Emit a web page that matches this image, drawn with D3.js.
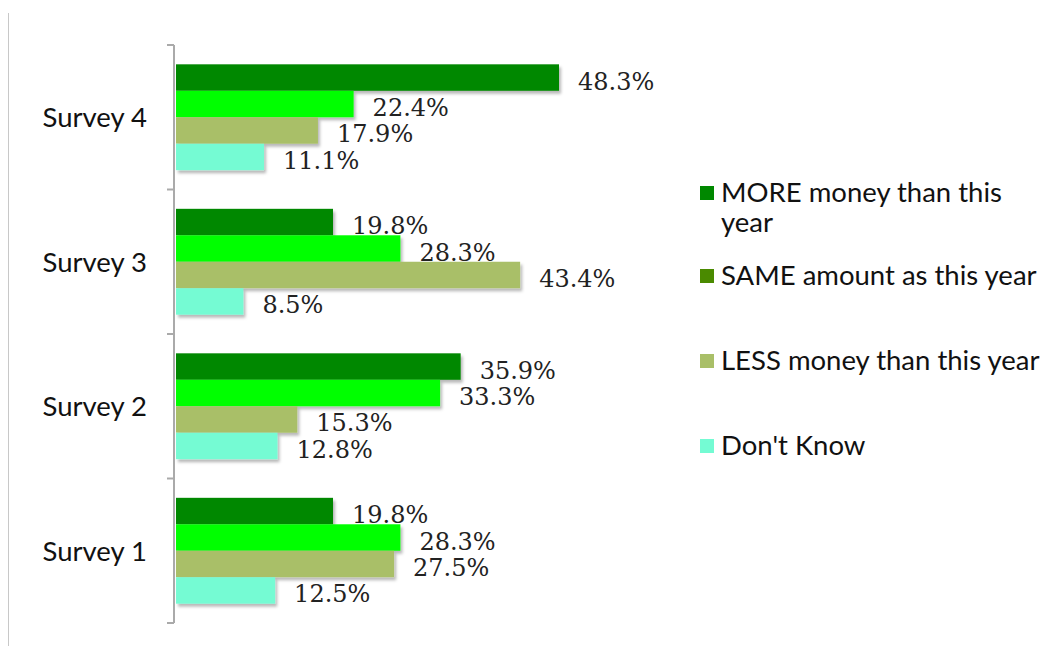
<!DOCTYPE html>
<html>
<head>
<meta charset="utf-8">
<script src="https://cdn.jsdelivr.net/npm/d3@7"></script>
<style>
  html, body { margin: 0; padding: 0; background: #fff; }
  svg { display: block; }
</style>
</head>
<body>
<svg id="chart" width="1042" height="646"></svg>
<script>
// Survey responses: expected spending next year
const categories = ["Survey 4", "Survey 3", "Survey 2", "Survey 1"];
const seriesNames = [
  "MORE money than this year",
  "SAME amount as this year",
  "LESS money than this year",
  "Don't Know"
];
const moreValues = [48.3, 19.8, 35.9, 19.8];
const sameValues = [22.4, 28.3, 33.3, 28.3];
const lessValues = [17.9, 43.4, 15.3, 27.5];
const dontKnowValues = [11.1, 8.5, 12.8, 12.5];

const barColors = ["#008800", "#00ff00", "#a9bf68", "#74fbd3"];
const legendColors = ["#008800", "#4a8a00", "#a9bf68", "#74fbd3"];

const seriesValues = [moreValues, sameValues, lessValues, dontKnowValues];

const svg = d3.select("#chart");
const margin = { left: 175, top: 45, bottom: 623 };

// drop shadow for bars
const defs = svg.append("defs");
const f = defs.append("filter").attr("id", "shadow")
  .attr("x", "-5%").attr("y", "-20%").attr("width", "115%").attr("height", "160%");
f.append("feDropShadow").attr("dx", 2).attr("dy", 3).attr("stdDeviation", 1.8)
  .attr("flood-color", "#000").attr("flood-opacity", 0.28);

// thin frame line on the left
svg.append("line").attr("x1", 8.5).attr("x2", 8.5).attr("y1", 13).attr("y2", 646)
  .attr("stroke", "#c8c8c8").attr("stroke-width", 1);

const x = d3.scaleLinear().domain([0, 48.3]).range([176, 559]);
const y = d3.scaleBand().domain(categories).range([margin.top, margin.bottom]).paddingInner(0).paddingOuter(0);
const inner = d3.scaleBand().domain(d3.range(4)).range([0, y.bandwidth()]).paddingOuter(0.73).paddingInner(0);

const rows = categories.map((c, i) => seriesValues.map((vals, s) => ({ cat: c, s, v: vals[i] })));

const groups = svg.append("g").selectAll("g").data(rows).join("g")
  .attr("transform", (d, i) => `translate(0,${y(categories[i])})`);

groups.selectAll("rect").data(d => d).join("rect")
  .attr("x", x(0))
  .attr("y", d => inner(d.s))
  .attr("width", d => x(d.v) - x(0))
  .attr("height", inner.bandwidth())
  .attr("fill", d => barColors[d.s])
  .attr("filter", "url(#shadow)");

groups.selectAll("text").data(d => d).join("text")
  .attr("x", d => x(d.v) + 19)
  .attr("y", d => inner(d.s) + inner.bandwidth() / 2 + 12)
  .attr("font-family", "'DejaVu Serif', serif")
  .attr("font-size", 24)
  .attr("fill", "#222")
  .text(d => d.v.toFixed(1) + "%");

// category axis
const axis = svg.append("g").attr("transform", "translate(174,0)")
  .call(d3.axisLeft(y).tickSize(0).tickFormat(""));
axis.select(".domain").attr("stroke", "#aaa").attr("stroke-width", 2)
  .attr("d", `M0,${margin.top}V${margin.bottom}`);
const boundaries = [margin.top].concat(categories.map(c => y(c) + y.bandwidth()));
axis.selectAll(".bnd").data(boundaries).join("line").attr("class", "bnd")
  .attr("x1", -7).attr("x2", 0).attr("y1", d => d).attr("y2", d => d)
  .attr("stroke", "#aaa").attr("stroke-width", 2);

svg.append("g").selectAll("text").data(categories).join("text")
  .attr("x", 147)
  .attr("y", d => y(d) + y.bandwidth() / 2 + 10)
  .attr("text-anchor", "end")
  .attr("font-family", "Lato, sans-serif")
  .attr("font-size", 27.5)
  .attr("fill", "#111")
  .text(d => d);

// legend
const legendItems = [
  { lines: ["MORE money than this", "year"], base: 202 },
  { lines: ["SAME amount as this year"], base: 285 },
  { lines: ["LESS money than this year"], base: 370 },
  { lines: ["Don't Know"], base: 455 }
];
const lg = svg.append("g").selectAll("g").data(legendItems).join("g");
lg.append("rect")
  .attr("x", 700).attr("y", d => d.base - 16).attr("width", 14).attr("height", 14)
  .attr("fill", (d, i) => legendColors[i]);
lg.append("text")
  .attr("x", 721).attr("y", d => d.base)
  .attr("font-family", "Lato, sans-serif")
  .attr("font-size", 27.5)
  .attr("fill", "#111")
  .selectAll("tspan").data(d => d.lines).join("tspan")
  .attr("x", 721).attr("dy", (d, i) => i === 0 ? 0 : 30)
  .text(d => d);
</script>
</body>
</html>
